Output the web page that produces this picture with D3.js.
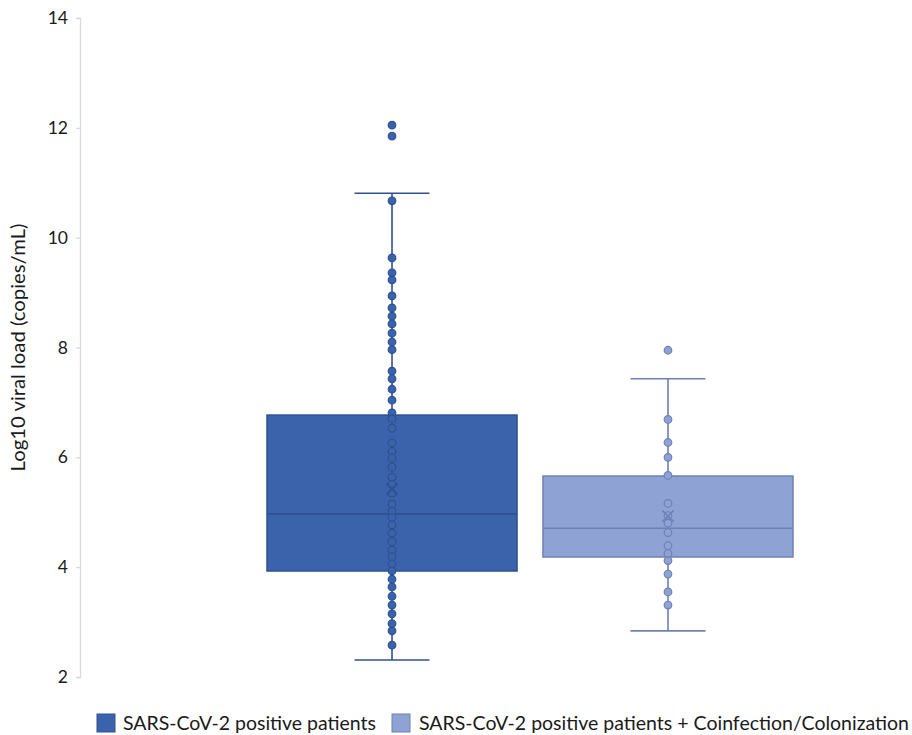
<!DOCTYPE html>
<html>
<head>
<meta charset="utf-8">
<script src="https://cdn.jsdelivr.net/npm/d3@7"></script>
<style>
  html, body { margin: 0; padding: 0; background: #fff; }
  svg { display: block; font-family: Lato, "Open Sans", "Noto Sans", sans-serif; }
</style>
</head>
<body>
<svg id="chart" width="912" height="735"></svg>
<script>
// ---- data ----
const seriesNames = ["SARS-CoV-2 positive patients", "SARS-CoV-2 positive patients + Coinfection/Colonization"];
const whiskerLow  = [2.31, 2.84];
const quart1      = [3.93, 4.185];
const medians     = [4.97, 4.71];
const quart3      = [6.77, 5.66];
const whiskerHigh = [10.81, 7.43];
const means       = [5.42, 4.93];
const pointsA = [12.05, 11.85, 10.67, 9.63, 9.36, 9.23, 8.94, 8.72, 8.57, 8.43, 8.26, 8.10, 7.96,
                 7.57, 7.43, 7.24, 7.04, 6.81, 6.70, 6.53, 6.26, 6.11, 5.99, 5.82, 5.64, 5.51, 5.35,
                 5.15, 5.02, 4.90, 4.77, 4.62, 4.46, 4.31, 4.19, 4.06, 3.93, 3.78, 3.64, 3.47, 3.31,
                 3.15, 2.97, 2.84, 2.58];
const pointsB = [7.95, 6.69, 6.27, 6.00, 5.67, 5.16, 4.94, 4.80, 4.63, 4.39, 4.25, 4.12, 3.875, 3.55, 3.31];
const yTicks = [2, 4, 6, 8, 10, 12, 14];

// ---- styles ----
const fills   = ["#3B63AC", "#8FA2D4"];
const strokes = ["#2E5191", "#6F80B5"];

const svg = d3.select("#chart");
const y = d3.scaleLinear().domain([2, 14]).range([677, 18]);
const x = d3.scaleBand().domain(seriesNames).range([267, 793]).paddingInner(0.094).paddingOuter(0);

// axis
const yAxis = d3.axisLeft(y).tickValues(yTicks).tickSize(4).tickPadding(8).tickFormat(d3.format("d"));
const ga = svg.append("g").attr("transform", "translate(80,0)").call(yAxis);
ga.select(".domain").attr("stroke", "#D9D9D9").attr("stroke-width", 1.3);
ga.selectAll(".tick line").attr("stroke", "#D9D9D9").attr("stroke-width", 1.3);
ga.selectAll(".tick text").attr("fill", "#1a1a1a").style("font-size", "17.5px")
  .style("font-family", "Lato, 'Open Sans', sans-serif");

svg.append("text")
  .attr("transform", `translate(25,${(y(2)+y(14))/2}) rotate(-90)`)
  .attr("text-anchor", "middle")
  .attr("fill", "#1a1a1a")
  .style("font-size", "18.5px")
  .attr("textLength", 248).attr("lengthAdjust", "spacingAndGlyphs")
  .text("Log10 viral load (copies/mL)");

const pointSets = [pointsA, pointsB];

seriesNames.forEach((name, i) => {
  const g = svg.append("g");
  const x0 = x(name), bw = x.bandwidth(), cx = x0 + bw / 2;
  const capW = 75;
  // whiskers
  g.append("line").attr("x1", cx).attr("x2", cx).attr("y1", y(quart3[i])).attr("y2", y(whiskerHigh[i]))
    .attr("stroke", strokes[i]).attr("stroke-width", 1.6);
  g.append("line").attr("x1", cx).attr("x2", cx).attr("y1", y(quart1[i])).attr("y2", y(whiskerLow[i]))
    .attr("stroke", strokes[i]).attr("stroke-width", 1.6);
  [whiskerHigh[i], whiskerLow[i]].forEach(v => {
    g.append("line").attr("x1", cx - capW / 2).attr("x2", cx + capW / 2).attr("y1", y(v)).attr("y2", y(v))
      .attr("stroke", strokes[i]).attr("stroke-width", 1.6);
  });
  // box
  g.append("rect").attr("x", x0).attr("width", bw)
    .attr("y", y(quart3[i])).attr("height", y(quart1[i]) - y(quart3[i]))
    .attr("fill", fills[i]).attr("stroke", strokes[i]).attr("stroke-width", 1.5);
  // median
  g.append("line").attr("x1", x0).attr("x2", x0 + bw).attr("y1", y(medians[i])).attr("y2", y(medians[i]))
    .attr("stroke", strokes[i]).attr("stroke-width", 1.6);
  // points
  g.selectAll("circle.pt").data(pointSets[i]).enter().append("circle")
    .attr("class", "pt")
    .attr("cx", cx).attr("cy", d => y(d)).attr("r", 3.8)
    .attr("fill", fills[i]).attr("stroke", strokes[i]).attr("stroke-width", 1.2);
  // mean marker (X)
  const my = y(means[i]), s = 5.5;
  g.append("path")
    .attr("d", `M${cx - s},${my - s}L${cx + s},${my + s}M${cx - s},${my + s}L${cx + s},${my - s}`)
    .attr("stroke", strokes[i]).attr("stroke-width", 1.6).attr("fill", "none");
});

// legend
const legendItems = [
  { sx: 97, tx: 123, len: 253 },
  { sx: 392, tx: 419, len: 490 }
];
seriesNames.forEach((name, i) => {
  const li = legendItems[i];
  svg.append("rect").attr("x", li.sx).attr("y", 714).attr("width", 18).attr("height", 18)
    .attr("fill", fills[i]).attr("stroke", strokes[i]).attr("stroke-width", 1);
  svg.append("text").attr("x", li.tx).attr("y", 730)
    .attr("fill", "#1a1a1a").style("font-size", "19px")
    .attr("textLength", li.len).attr("lengthAdjust", "spacingAndGlyphs")
    .text(name);
});
</script>
</body>
</html>
